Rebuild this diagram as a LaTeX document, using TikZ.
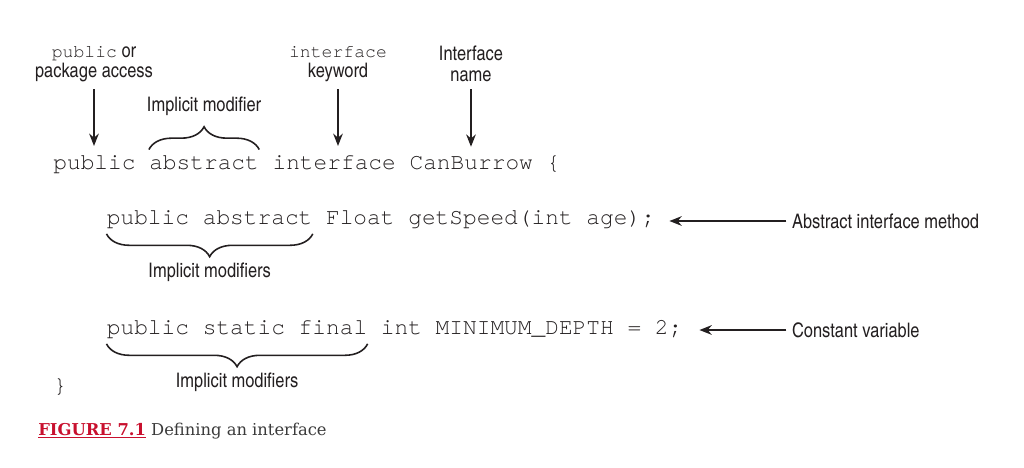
\documentclass[tikz,border=0pt]{standalone}
\usepackage{fontspec}
\usepackage{xcolor}
\usetikzlibrary{arrows.meta,positioning,decorations.pathreplacing}
\newfontfamily\codefont{texgyrecursor-regular.otf}[Ligatures=NoCommon]
\newfontfamily\notefont{texgyreheroscn-regular.otf}
\newfontfamily\capfont{DejaVu Serif}
\newcommand{\kwd}[1]{{\codefont\fontsize{10.3}{11.6}\selectfont #1}}
\definecolor{ink}{HTML}{231F20}
\definecolor{figred}{HTML}{C8102E}
\definecolor{capgray}{HTML}{3A3A3A}

\begin{document}
\begin{tikzpicture}[
          code/.style={anchor=base west, inner sep=0pt, text=ink, font=\codefont\fontsize{13}{15}\selectfont},
          note/.style={inner sep=1pt, align=center, text=ink, font=\notefont\fontsize{11.4}{11.6}\selectfont},
          pointer/.style={-{Stealth[length=7pt,width=5.5pt]}, line width=1pt, ink},
          bracket/.style={ink, line width=0.9pt, decorate, decoration={brace, amplitude=13pt, raise=3pt}}
        ]
          \useasboundingbox (0,0) rectangle (20.48,-9.34);

          % Interface declaration
          \node[code] (pub) at (1.06,-3.38) {public};
          \node[code] (abs) at (2.978,-3.38) {abstract};
          \node[code] (intf) at (5.444,-3.38) {interface};
          \node[code] (ifname) at (8.184,-3.38) {CanBurrow};
          \node[code] (lbrace) at (10.924,-3.38) {\{};

          \node[code] (mmods) at (2.13,-4.48) {public abstract};
          \node[code] (msig) at (6.514,-4.48) {Float getSpeed(int age);};

          \node[code] (cmods) at (2.13,-6.68) {public static final};
          \node[code] (cdecl) at (7.61,-6.68) {int MINIMUM\_DEPTH = 2;};

          \node[code] (rbrace) at (1.06,-7.84) {\}};

          % Labels above the declaration
          \node[note] (accesslbl) at (1.88,-1.28) {\kwd{public} or\\package access};
          \node[note] (kwlbl) at (6.76,-1.28) {\kwd{interface}\\keyword};
          \node[note] (namelbl) at (9.42,-1.28) {Interface\\name};

          \draw[pointer, shorten <=3pt, shorten >=5pt] (accesslbl) -- (accesslbl |- pub.north);
          \draw[pointer, shorten <=3pt, shorten >=5pt] (kwlbl) -- (kwlbl |- intf.north);
          \draw[pointer, shorten <=3pt, shorten >=5pt] (namelbl) -- (namelbl |- ifname.north);

          % Braces for the implicit modifiers
          \draw[bracket] (abs.north west) -- (abs.north east)
            node[midway, above=21pt, note] (abslbl) {Implicit modifier};
          \draw[bracket] (mmods.south east) -- (mmods.south west)
            node[midway, below=18pt, note] (mmodslbl) {Implicit modifiers};
          \draw[bracket] (cmods.south east) -- (cmods.south west)
            node[midway, below=18pt, note] (cmodslbl) {Implicit modifiers};

          % Labels on the right
          \node[note, anchor=west] (methodlbl) at (15.80,-4.42) {Abstract interface method};
          \node[note, anchor=west] (constlbl) at (15.80,-6.60) {Constant variable};

          \draw[pointer, shorten <=2pt, shorten >=8pt] (methodlbl) -- (methodlbl -| msig.east);
          \draw[pointer, shorten <=2pt, shorten >=9.5pt] (constlbl) -- (constlbl -| cdecl.east);

          \node[anchor=base west, inner sep=0pt, text=capgray, font=\capfont\fontsize{9.3}{11}\selectfont] (caption) at (0.76,-8.70)
            {{\color{figred}\bfseries\underline{FIGURE 7.1}} Defining an interface};
        \end{tikzpicture}
\end{document}
